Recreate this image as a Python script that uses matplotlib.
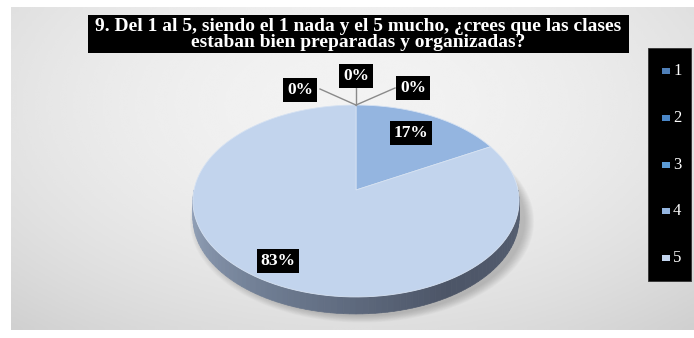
import numpy as np
import matplotlib.pyplot as plt
from matplotlib.patches import Polygon, Rectangle
import matplotlib.colors as mcolors

# survey answers for question 9 (share of responses, %)
categories = ['1', '2', '3', '4', '5']
values = [0, 0, 0, 17, 83]
colors = ['#4f7fb8', '#4a86c6', '#5b9bd5', '#94b5e0', '#c2d4ed']
title = ('9. Del 1 al 5, siendo el 1 nada y el 5 mucho, ¿crees que las clases\n'
         'estaban bien preparadas y organizadas?')

W, H = 694, 338
fig = plt.figure(figsize=(W / 100, H / 100), dpi=100, facecolor='white')
ax = fig.add_axes([0, 0, 1, 1])
ax.set_xlim(0, W)
ax.set_ylim(H, 0)
ax.axis('off')

# gray radial background of the chart area
gx, gy = np.meshgrid(np.linspace(0, 1, 300), np.linspace(0, 1, 150))
r = np.sqrt(((gx - 0.5) / 0.75) ** 2 + ((gy - 0.3) / 0.9) ** 2)
bg = np.clip(0.95 - 0.13 * r ** 2, 0, 1)
ax.imshow(bg, cmap='gray', vmin=0, vmax=1, extent=[11, W, 330, 7],
          aspect='auto', interpolation='bicubic', zorder=0)

# perspective pie geometry
cx, cy = 356, 190
rx, ry, persp = 162, 94.7, 0.1146
depth = 17


def project(theta, dy=0.0, scale=1.0):
    t = np.radians(theta)
    u, v = np.cos(t) * scale, np.sin(t) * scale
    d = 1 + persp * v
    return np.column_stack([cx + rx * u / d, cy - ry * v / d + dy])


# soft shadow under the pie
full = np.linspace(0, 360, 200)
for k in range(10):
    pts = project(full, dy=depth + 2, scale=1.0 + 0.006 * k) + [6, 0]
    ax.add_patch(Polygon(pts, closed=True, fc='#555555', ec='none',
                         alpha=0.035, zorder=1))

# side wall of the disc
side_cols = [mcolors.to_rgb(c) for c in ['#9aa9c0', '#6f7d93', '#4c5567', '#566072']]
steps = np.linspace(180, 360, 91)
for i in range(len(steps) - 1):
    a0, a1 = steps[i], steps[i + 1]
    f = (0.5 * (a0 + a1) - 180) / 180 * (len(side_cols) - 1)
    j = min(int(f), len(side_cols) - 2)
    w = f - j
    col = tuple((1 - w) * np.array(side_cols[j]) + w * np.array(side_cols[j + 1]))
    top = project(np.array([a0, a1]))
    bot = project(np.array([a1, a0]), dy=depth)
    ax.add_patch(Polygon(np.vstack([top, bot]), closed=True, fc=col, ec=col,
                         lw=0.5, zorder=2))

# top face slices, clockwise from 12 o'clock
total = sum(values)
start = 90.0
for val, col in zip(values, colors):
    end = start - 360.0 * val / total
    if val > 0:
        arc = project(np.linspace(start, end, 120))
        pts = np.vstack([[cx, cy], arc])
        ax.add_patch(Polygon(pts, closed=True, fc=col, ec='#d6e2f2', lw=0.6,
                             zorder=3))
    start = end

lab_font = dict(family='Liberation Serif', weight='bold', color='white',
                fontsize=12.5, ha='center', va='center', zorder=6)
box = dict(boxstyle='square,pad=0.22', fc='black', ec='none')

# labels on the visible slices
label_pos = {3: (411, 133), 4: (278, 261)}
for i, (x, y) in label_pos.items():
    ax.text(x, y, f'{values[i]}%', bbox=box, **lab_font)

# zero-share slices labelled with leader lines from the top edge
tip = project(np.array([90.0]))[0]
zero_pos = {0: ((300, 90), (320, 89)), 1: ((356, 76), (356, 85)),
            2: ((413, 88), (395, 88))}
for i, ((x, y), (lx, ly)) in zero_pos.items():
    ax.plot([tip[0], lx], [tip[1], ly], color='#8a8a8a', lw=1.0, zorder=5)
    ax.text(x, y, f'{values[i]}%', bbox=box, **lab_font)

# title block
ax.add_patch(Rectangle((88, 15), 541, 38, fc='black', ec='none', zorder=6))
ax.text(358.5, 34.5, title, family='Liberation Serif', weight='bold',
        color='white', fontsize=14, ha='center', va='center',
        linespacing=0.88, zorder=7)

# legend block
ax.add_patch(Rectangle((648, 48), 43, 233, fc='black', ec='#333333', lw=0.6,
                       zorder=6))
for k, (cat, col) in enumerate(zip(categories, colors)):
    y = 71 + k * 46.8
    ax.add_patch(Rectangle((662, y - 3), 8, 6, fc=col, ec='none', zorder=7))
    ax.text(673, y, cat, family='Liberation Serif', color='white',
            fontsize=12, ha='left', va='center', zorder=7)

plt.savefig('out.png', dpi=100, facecolor='white')
